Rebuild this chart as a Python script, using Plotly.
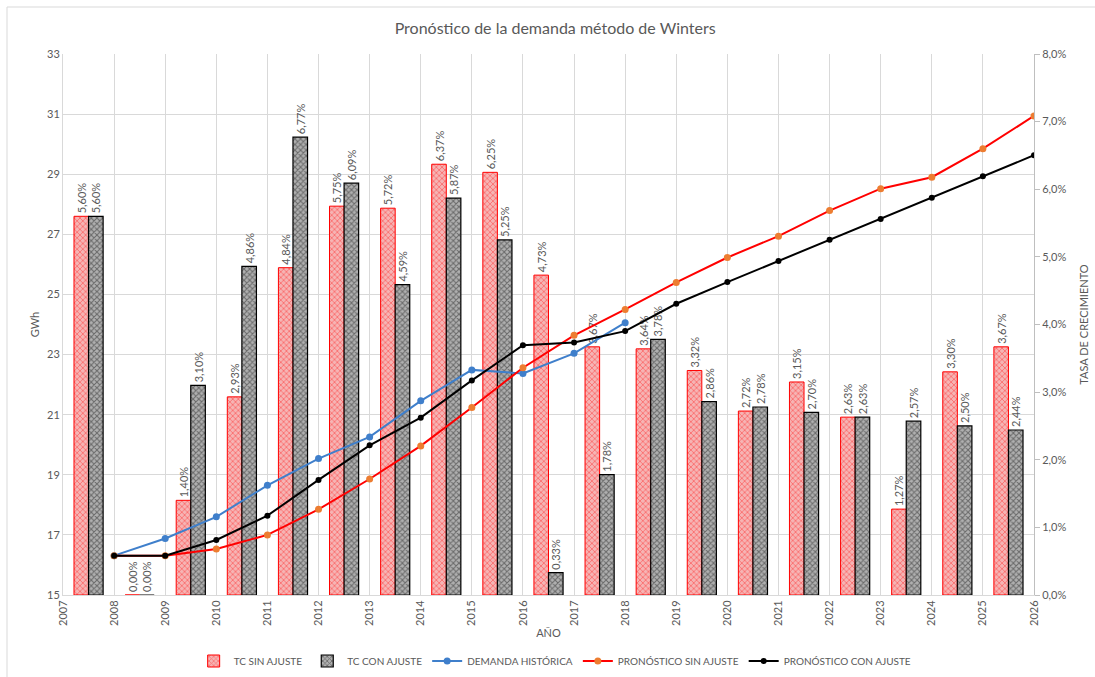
import plotly.graph_objects as go

# Growth-rate bars (percent), one pair per yearly band starting at the year shown
bar_years = [2007, 2008, 2009, 2010, 2011, 2012, 2013, 2014, 2015, 2016,
             2017, 2018, 2019, 2020, 2021, 2022, 2023, 2024, 2025]
tc_sin_ajuste = [5.60, 0.00, 1.40, 2.93, 4.84, 5.75, 5.72, 6.37, 6.25, 4.73,
                 3.67, 3.64, 3.32, 2.72, 3.15, 2.63, 1.27, 3.30, 3.67]
tc_con_ajuste = [5.60, 0.00, 3.10, 4.86, 6.77, 6.09, 4.59, 5.87, 5.25, 0.33,
                 1.78, 3.78, 2.86, 2.78, 2.70, 2.63, 2.57, 2.50, 2.44]

# Demand series (GWh)
line_years = [2008, 2009, 2010, 2011, 2012, 2013, 2014, 2015, 2016, 2017,
              2018, 2019, 2020, 2021, 2022, 2023, 2024, 2025, 2026]
demanda_historica = [16.31, 16.88, 17.60, 18.65, 19.54, 20.26, 21.46, 22.49,
                     22.37, 23.04, 24.06]
pronostico_sin_ajuste = [16.31, 16.31, 16.53, 17.00, 17.85, 18.86, 19.96, 21.24,
                         22.56, 23.64, 24.50, 25.40, 26.23, 26.94, 27.79, 28.52,
                         28.90, 29.85, 30.94]
pronostico_con_ajuste = [16.31, 16.31, 16.83, 17.64, 18.83, 19.98, 20.90, 22.14,
                         23.31, 23.40, 23.78, 24.69, 25.41, 26.11, 26.82, 27.51,
                         28.22, 28.93, 29.63]

pct_ticks = [0, 1, 2, 3, 4, 5, 6, 7, 8]
pct_ticktext = ["0,0%", "1,0%", "2,0%", "3,0%", "4,0%", "5,0%", "6,0%", "7,0%", "8,0%"]
gwh_ticks = [15, 17, 19, 21, 23, 25, 27, 29, 31, 33]
x_ticks = list(range(2007, 2027))

FONT = "Lato"
GREY = "#595959"


def pct_label(v):
    return f"{v:.2f}%".replace(".", ",")


bar_x = [y + 0.5 for y in bar_years]

fig = go.Figure()

fig.add_trace(go.Bar(
    x=bar_x, y=tc_sin_ajuste, name="TC SIN AJUSTE", yaxis="y",
    offsetgroup="a",
    marker=dict(color="#f2a0a0", line=dict(color="#ff0000", width=1),
                pattern=dict(shape="x", fgcolor="#ff2a2a", bgcolor="#f6b4b4",
                             size=4, solidity=0.4)),
    text=[pct_label(v) for v in tc_sin_ajuste], textposition="outside",
    textangle=-90, textfont=dict(size=11, color=GREY, family=FONT),
    cliponaxis=False,
))
fig.add_trace(go.Bar(
    x=bar_x, y=tc_con_ajuste, name="TC CON AJUSTE", yaxis="y",
    offsetgroup="b",
    marker=dict(color="#8a8a8a", line=dict(color="#000000", width=1.2),
                pattern=dict(shape="x", fgcolor="#222222", bgcolor="#b0b0b0",
                             size=4, solidity=0.45)),
    text=[pct_label(v) for v in tc_con_ajuste], textposition="outside",
    textangle=-90, textfont=dict(size=11, color=GREY, family=FONT),
    cliponaxis=False,
))

fig.add_trace(go.Scatter(
    x=line_years[:len(demanda_historica)], y=demanda_historica,
    name="DEMANDA HISTÓRICA", yaxis="y2", mode="lines+markers",
    line=dict(color="#3f7fcb", width=2),
    marker=dict(color="#3f7fcb", size=7),
))
fig.add_trace(go.Scatter(
    x=line_years, y=pronostico_sin_ajuste,
    name="PRONÓSTICO SIN AJUSTE", yaxis="y2", mode="lines+markers",
    line=dict(color="#ff0000", width=2),
    marker=dict(color="#ed7d31", size=7),
))
fig.add_trace(go.Scatter(
    x=line_years, y=pronostico_con_ajuste,
    name="PRONÓSTICO CON AJUSTE", yaxis="y2", mode="lines+markers",
    line=dict(color="#000000", width=2),
    marker=dict(color="#000000", size=6),
))

fig.update_layout(
    width=1095, height=677,
    margin=dict(l=63, r=61, t=54, b=82, autoexpand=False),
    paper_bgcolor="white", plot_bgcolor="white",
    font=dict(family=FONT, color=GREY, size=11),
    title=dict(text="Pronóstico de la demanda método de Winters",
               x=0.507, xanchor="center", y=1 - 28 / 677, yanchor="middle",
               font=dict(size=16, color=GREY, family=FONT)),
    barmode="group", bargap=0.43, bargroupgap=0,
    uniformtext=dict(minsize=11, mode="show"),
    showlegend=True,
    legend=dict(orientation="h", x=0.507, xanchor="center", xref="container",
                y=1 - 661 / 677, yanchor="middle", yref="container",
                font=dict(size=10, color=GREY, family=FONT),
                itemwidth=30, tracegroupgap=0),
    xaxis=dict(range=[2007, 2026], tickvals=x_ticks, tickangle=-90,
               showgrid=True, gridcolor="#d9d9d9", gridwidth=1,
               showline=True, linecolor="#d9d9d9", ticks="", automargin=False,
               tickfont=dict(size=11, color=GREY),
               title=dict(text="AÑO", font=dict(size=11, color=GREY), standoff=4),
               zeroline=False),
    yaxis=dict(range=[0, 8], side="right", tickvals=pct_ticks, ticktext=pct_ticktext,
               showgrid=False, zeroline=False, showline=True, linecolor="#bfbfbf",
               ticks="outside", ticklen=5, tickcolor="#bfbfbf", automargin=False,
               tickfont=dict(size=11, color=GREY),
               title=dict(text="TASA DE CRECIMIENTO", font=dict(size=11, color=GREY),
                          standoff=14)),
    yaxis2=dict(range=[15, 33], side="left", overlaying="y", tickvals=gwh_ticks,
                showgrid=True, gridcolor="#d9d9d9", zeroline=False,
                showline=True, linecolor="#d9d9d9", ticks="", automargin=False,
                tickfont=dict(size=11, color=GREY),
                title=dict(text="GWh", font=dict(size=11, color=GREY), standoff=5)),
    shapes=[dict(type="rect", xref="paper", yref="paper",
                 x0=(7 - 63) / 971, x1=(1100 - 63) / 971,
                 y0=(595 - 700) / 541, y1=(595 - 7) / 541,
                 line=dict(color="#d9d9d9", width=1), fillcolor="rgba(0,0,0,0)",
                 layer="below")],
)

fig.write_html("out.html")
